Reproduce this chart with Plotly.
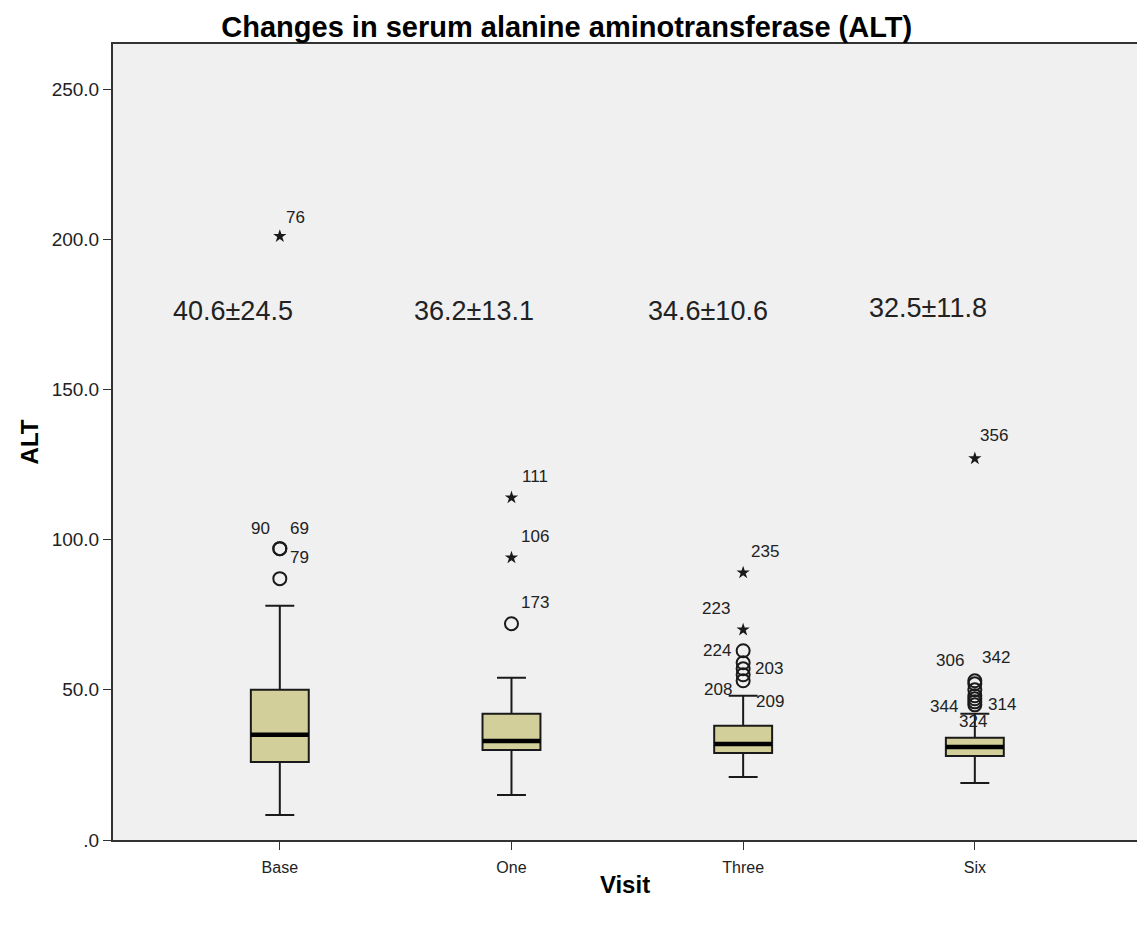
import plotly.graph_objects as go

# Visits and box statistics for serum ALT
visits = ["Base", "One", "Three", "Six"]
lower_whisker = [8.3, 15, 21, 19]
q1 = [26, 30, 29, 28]
median = [35, 33, 32, 31]
q3 = [50, 42, 38, 34]
upper_whisker = [78, 54, 48, 42]

# Mean ± SD shown above each box
means = [40.6, 36.2, 34.6, 32.5]
sds = [24.5, 13.1, 10.6, 11.8]

# Outliers (o) and extreme values (*) with their case numbers
out_visit = [0, 0, 0, 0,
             1, 1, 1,
             2, 2, 2, 2, 2, 2, 2,
             3, 3, 3, 3, 3, 3, 3, 3]
out_value = [97, 97, 87, 201,
             72, 94, 114,
             63, 59, 57, 55, 53, 70, 89,
             53, 52, 50, 48, 47, 46, 45, 127]
out_kind = ["o", "o", "o", "*",
            "o", "*", "*",
            "o", "o", "o", "o", "o", "*", "*",
            "o", "o", "o", "o", "o", "o", "o", "*"]
out_case = ["90", "69", "79", "76",
            "173", "106", "111",
            "224", "", "203", "209", "208", "223", "235",
            "306", "342", "", "", "344", "314", "324", "356"]

# Pixel offsets of each case label from its marker
label_dx = [-19, 20, 20, 16,
            24, 24, 24,
            -26, 0, 26, 27, -25, -27, 22,
            -25, 21, 0, 0, -31, 27, -2, 19]
label_dy = [20, 20, 21, 19,
            21, 21, 21,
            0, 0, 0, -27, -9, 21, 21,
            20, 26, 0, 0, -8, -3, -17, 23]

BOX_W = 0.25
FILL = "#D3CF9A"
FONT = "Liberation Sans, Arial, sans-serif"

fig = go.Figure()

fig.add_trace(go.Box(
    x=list(range(len(visits))),
    q1=q1, median=median, q3=q3,
    lowerfence=lower_whisker, upperfence=upper_whisker,
    width=BOX_W, whiskerwidth=0.5,
    fillcolor=FILL,
    line=dict(color="#1a1a1a", width=2),
    boxpoints=False, showlegend=False, hoverinfo="skip",
))

# Thick median bars
mx, my = [], []
for i, m in enumerate(median):
    mx += [i - BOX_W / 2, i + BOX_W / 2, None]
    my += [m, m, None]
fig.add_trace(go.Scatter(x=mx, y=my, mode="lines",
                         line=dict(color="black", width=4.5),
                         showlegend=False, hoverinfo="skip"))

# Outlier circles and extreme-value stars
cx = [v for v, k in zip(out_visit, out_kind) if k == "o"]
cy = [y for y, k in zip(out_value, out_kind) if k == "o"]
sx = [v for v, k in zip(out_visit, out_kind) if k == "*"]
sy = [y for y, k in zip(out_value, out_kind) if k == "*"]
fig.add_trace(go.Scatter(x=cx, y=cy, mode="markers",
                         marker=dict(symbol="circle-open", size=13,
                                     color="#1a1a1a", line=dict(width=2)),
                         showlegend=False, hoverinfo="skip"))
fig.add_trace(go.Scatter(x=sx, y=sy, mode="markers",
                         marker=dict(symbol="star", size=10, color="#1a1a1a"),
                         showlegend=False, hoverinfo="skip"))

annotations = []
for v, y, c, dx, dy in zip(out_visit, out_value, out_case, label_dx, label_dy):
    if not c:
        continue
    annotations.append(dict(x=v, y=y, xref="x", yref="y", text=c,
                            showarrow=False, xshift=dx, yshift=dy,
                            font=dict(family=FONT, size=17, color="#222")))

# Mean ± SD text
stat_dx = [-0.2, -0.16, -0.15, -0.2]
stat_y = [176.2, 176.2, 176.2, 177.2]
for i, (m, s) in enumerate(zip(means, sds)):
    annotations.append(dict(x=i + stat_dx[i], y=stat_y[i], xref="x", yref="y",
                            text=f"{m:.1f}±{s:.1f}", showarrow=False,
                            font=dict(family=FONT, size=27, color="#222")))

fig.update_layout(
    width=1138, height=926,
    margin=dict(l=113, r=1, t=44, b=86),
    paper_bgcolor="white",
    plot_bgcolor="#F0F0F0",
    title=dict(text="<b>Changes in serum alanine aminotransferase (ALT)</b>",
               x=0.498, xanchor="center", y=0.971, yanchor="middle",
               font=dict(family=FONT, size=29, color="black")),
    annotations=annotations,
    xaxis=dict(
        range=[-0.72, 3.7],
        tickvals=list(range(len(visits))), ticktext=visits,
        ticks="outside", ticklen=8, tickwidth=1, tickcolor="#333",
        ticklabelstandoff=4,
        showline=True, linecolor="#333", linewidth=2, mirror=True,
        showgrid=False, zeroline=False,
        tickfont=dict(family=FONT, size=16, color="#222"),
        title=dict(text="<b>Visit</b>", standoff=1,
                   font=dict(family=FONT, size=24, color="black")),
    ),
    yaxis=dict(
        range=[0, 265],
        tickvals=[0, 50, 100, 150, 200, 250],
        ticktext=[".0", "50.0", "100.0", "150.0", "200.0", "250.0"],
        ticks="outside", ticklen=8, tickwidth=1, tickcolor="#333",
        showline=True, linecolor="#333", linewidth=2,
        showgrid=False, zeroline=False,
        tickfont=dict(family=FONT, size=19, color="#222"),
        title=dict(text="<b>ALT</b>", standoff=6,
                   font=dict(family=FONT, size=24, color="black")),
    ),
)

fig.write_html("out.html")
